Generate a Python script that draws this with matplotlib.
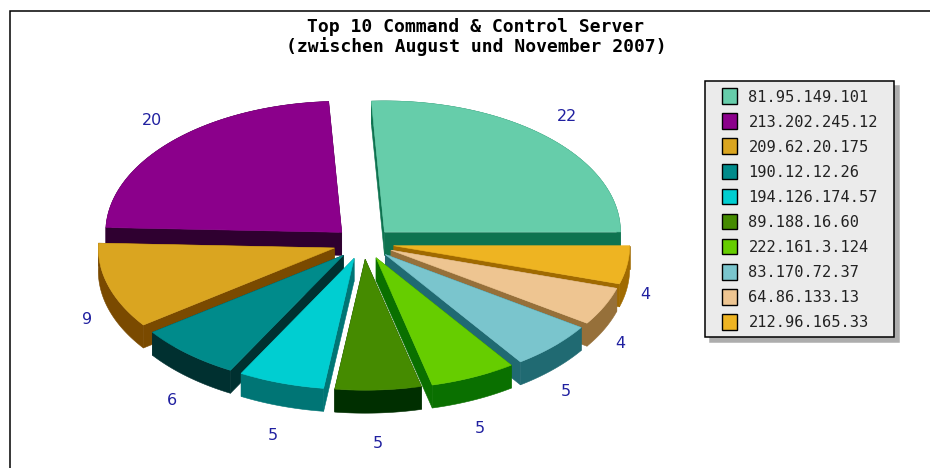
import numpy as np
import matplotlib
matplotlib.use("Agg")
import matplotlib.pyplot as plt
from matplotlib.patches import Polygon, Patch, Rectangle
from matplotlib.legend_handler import HandlerPatch
from matplotlib.lines import Line2D

# Command & control hosts and the number of bots seen on each
servers = ["81.95.149.101", "213.202.245.12", "209.62.20.175", "190.12.12.26",
           "194.126.174.57", "89.188.16.60", "222.161.3.124", "83.170.72.37",
           "64.86.133.13", "212.96.165.33"]
counts = [22, 20, 9, 6, 5, 5, 5, 5, 4, 4]
top_colors = ["#66CDAA", "#8B008B", "#DAA520", "#008B8B", "#00CED1",
              "#458B00", "#66CD00", "#7AC5CD", "#EEC591", "#EEB422"]
side_colors = ["#0E7350", "#2F0030", "#7A4A00", "#003030", "#007575",
               "#002F00", "#0A7000", "#206A72", "#96703A", "#A06A00"]

W, H = 930, 468
CX, CY = 363.5, 243.4     # pie centre
RX, RY = 236.0, 131.0     # projected radii
EX, EY = 30.5, 15.8       # explosion distance along each axis
DEPTH = 23.0              # height of the extruded rim
LABEL_RX_UPPER, LABEL_RX_LOWER = 296.0, 287.0
LABEL_RY, LABEL_DROP, LABEL_SHIFT_LOWER = 175.0, 25.5, -2.0

fig = plt.figure(figsize=(W / 100, H / 100), dpi=100, facecolor="white")
ax = fig.add_axes([0, 0, 1, 1])
ax.set_xlim(0, W)
ax.set_ylim(H, 0)
ax.axis("off")

# Chart frame: only the left and top edges fall inside the canvas
ax.add_line(Line2D([9.5, 9.5, W], [H, 10.5, 10.5], color="black", lw=1.1,
                   solid_joinstyle="miter"))

values = np.array(counts, dtype=float)
edges = np.concatenate([[0.0], np.cumsum(values)]) / values.sum() * 2 * np.pi


def draw_slice(i):
    a0, a1 = edges[i], edges[i + 1]
    mid = (a0 + a1) / 2
    ox = CX + EX * np.cos(mid)
    oy = CY - EY * np.sin(mid)
    t = np.linspace(a0, a1, 80)
    arc_x = ox + RX * np.cos(t)
    arc_y = oy - RY * np.sin(t)
    side = dict(closed=True, facecolor=side_colors[i], edgecolor=side_colors[i], lw=0.4)
    # Radial walls and rim band, extruded downward
    for ex_, ey_ in ((arc_x[0], arc_y[0]), (arc_x[-1], arc_y[-1])):
        ax.add_patch(Polygon([(ox, oy), (ex_, ey_), (ex_, ey_ + DEPTH), (ox, oy + DEPTH)], **side))
    band = np.column_stack([np.concatenate([arc_x, arc_x[::-1]]),
                            np.concatenate([arc_y, arc_y[::-1] + DEPTH])])
    ax.add_patch(Polygon(band, **side))
    # Top face
    top = np.column_stack([np.concatenate([[ox], arc_x]), np.concatenate([[oy], arc_y])])
    ax.add_patch(Polygon(top, closed=True, facecolor=top_colors[i],
                         edgecolor=top_colors[i], lw=0.4))


# Painter's order: slices farther back first
mids = (edges[:-1] + edges[1:]) / 2
for idx in np.argsort(-np.sin(mids)):
    draw_slice(idx)

# Value labels around the pie
for m, c in zip(mids, counts):
    lower = np.sin(m) < 0
    lx = CX + (LABEL_SHIFT_LOWER + LABEL_RX_LOWER * np.cos(m) if lower else LABEL_RX_UPPER * np.cos(m))
    ly = CY - LABEL_RY * np.sin(m) + (LABEL_DROP if lower else 0.0)
    ax.text(lx, ly, str(c), ha="center", va="center", color="#2020A0",
            fontsize=11.5, family="DejaVu Sans")

ax.text(476, 37, "Top 10 Command & Control Server\n(zwischen August und November 2007)",
        ha="center", va="center", fontsize=12.95, fontweight="bold",
        family="DejaVu Sans Mono", linespacing=1.11, color="black")


def swatch(legend, orig_handle, xdescent, ydescent, width, height, fontsize):
    # Square key flush right in the handle box, leaving the inner margin on its left
    side = height
    return Rectangle((width - side - xdescent, -ydescent), side, side)


handles = [Patch(facecolor=c, edgecolor="black", lw=1.0, label=s)
           for s, c in zip(servers, top_colors)]
leg = ax.legend(handles=handles, loc="upper left", bbox_to_anchor=(705, 81, 189, 256),
                bbox_transform=ax.transData, mode="expand", frameon=True, fancybox=False,
                edgecolor="black", facecolor="#EBEBEB", framealpha=1,
                shadow={"color": "#ADADAD", "alpha": 1, "ox": 3.6, "oy": -3.6},
                prop={"family": "DejaVu Sans Mono", "size": 11.1},
                handler_map={Patch: HandlerPatch(patch_func=swatch)},
                handlelength=1.62, handleheight=1.2, handletextpad=0.72,
                labelspacing=0.58, borderpad=0.48, borderaxespad=0, labelcolor="#222222")
leg.get_frame().set_linewidth(1.1)

fig.savefig("out.png", dpi=100, facecolor="white")
